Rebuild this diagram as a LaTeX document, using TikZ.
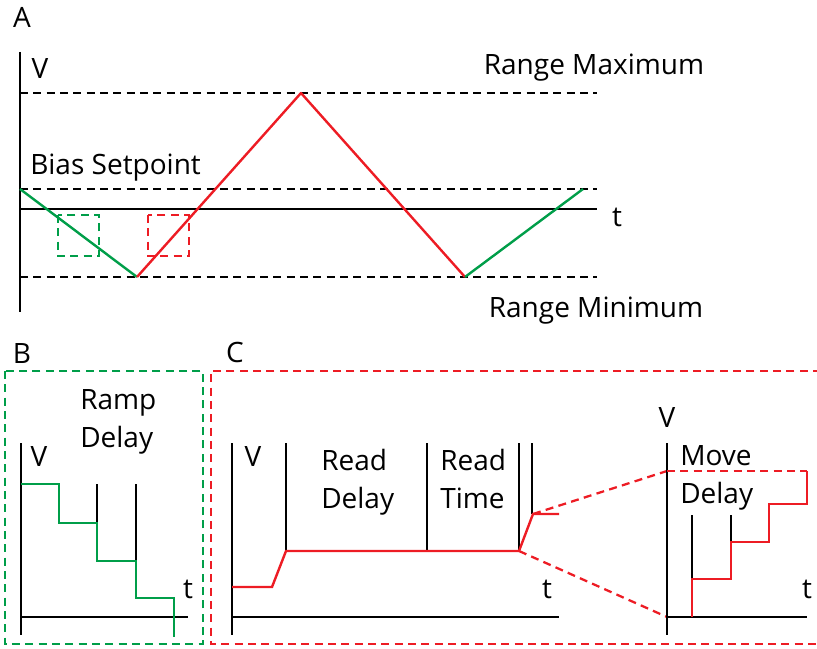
\documentclass[tikz,border=0pt]{standalone}
\usepackage{fontspec}
\setmainfont{Open Sans}
\definecolor{sigred}{RGB}{237,28,36}
\definecolor{siggreen}{RGB}{0,158,73}
\tikzset{
  axis/.style={line width=2.2pt},
  guide/.style={line width=1.7pt, dash pattern=on 6pt off 4pt},
  redtrace/.style={sigred, line width=1.8pt},
  greentrace/.style={siggreen, line width=1.8pt},
  lbl/.style={font=\fontsize{21}{28}\selectfont, inner sep=0pt},
}

\begin{document}
\begin{tikzpicture}[x=0.75pt,y=-0.75pt]
\useasboundingbox (0,0) rectangle (817,649);

% panel A
\node[lbl, anchor=base] (pA) at (22,28) {A};
\draw[axis] (20,52) -- (20,312);
\draw[axis] (20,209) -- (597,209);
\draw[guide] (20,93) -- (597,93);
\draw[guide] (20,189) -- (597,189);
\draw[guide] (20,277) -- (597,277);
\node[lbl, anchor=base] (vA) at (40,79) {V};
\node[lbl, anchor=base] (tA) at (617,226) {t};
\node[lbl, anchor=base] (rmax) at (594,75) {Range Maximum};
\node[lbl, anchor=base west] (bias) at (30,175) {Bias Setpoint};
\node[lbl, anchor=base] (rmin) at (596,317) {Range Minimum};

\coordinate (start) at (20,189);
\coordinate (low1) at (137,277);
\coordinate (peak) at (301,93);
\coordinate (low2) at (465,277);
\coordinate (stop) at (583,189);
\draw[greentrace] (start) -- (low1);
\draw[redtrace, line join=round] (low1) -- (peak) -- (low2);
\draw[greentrace] (low2) -- (stop);
\draw[guide, siggreen] (58,215) rectangle (99,256);
\draw[guide, sigred] (148,215) rectangle (189,256);

% panel B
\node[lbl, anchor=base] (pB) at (22,363) {B};
\draw[guide, siggreen] (5,371) rectangle (203,644);
\draw[axis] (21,443) -- (21,635);
\draw[axis] (21,617) -- (188,617);
\node[lbl, anchor=base] (vB) at (39,466) {V};
\node[lbl, anchor=base] (tB) at (188,598) {t};
\node[lbl, anchor=base west, align=left] (ramp) at (80,447) {Ramp\\Delay};
\draw[axis] (97,484) -- (97,523);
\draw[axis] (136,484) -- (136,561);
\draw[greentrace] (21,484) -| (59,523) -| (97,561) -| (136,598) -| (174,637);

% panel C
\node[lbl, anchor=base] (pC) at (235,362) {C};
\draw[guide, sigred] (821,371) -- (211,371) -- (211,644) -- (821,644);
\draw[axis] (232,443) -- (232,635);
\draw[axis] (232,617) -- (559,617);
\node[lbl, anchor=base] (vC) at (253,466) {V};
\node[lbl, anchor=base] (tC) at (547,598) {t};
\node[lbl, anchor=base west, align=left] (rdelay) at (321,508) {Read\\Delay};
\node[lbl, anchor=base west, align=left] (rtime) at (440,508) {Read\\Time};
\draw[axis] (286,443) -- (286,551);
\draw[axis] (427,443) -- (427,551);
\draw[axis] (519,443) -- (519,551);
\draw[axis] (532,443) -- (532,514);
\coordinate (jumpA) at (519,551);
\coordinate (jumpB) at (533,514);
\draw[redtrace] (232,587) -- (272,587) -- (286,551) -- (jumpA) -- (jumpB) -- (559,514);

% zoomed step
\coordinate (zoomtop) at (667,471);
\coordinate (zoombot) at (667,617);
\draw[guide, sigred] (jumpB) -- (zoomtop);
\draw[guide, sigred] (jumpA) -- (zoombot);
\draw[axis] (667,443) -- (667,635);
\draw[axis] (667,617) -- (807,617);
\draw[guide, sigred] (zoomtop) -- (807,471);
\node[lbl, anchor=base] (vZ) at (667,427) {V};
\node[lbl, anchor=base] (tZ) at (807,598) {t};
\node[lbl, anchor=base west, align=left] (mdelay) at (680,503) {Move\\Delay};
\draw[axis] (692,515) -- (692,579);
\draw[axis] (731,515) -- (731,542);
\draw[redtrace] (692,617) |- (731,579) |- (769,542) |- (807,504) -- (807,471);
\end{tikzpicture}
\end{document}
